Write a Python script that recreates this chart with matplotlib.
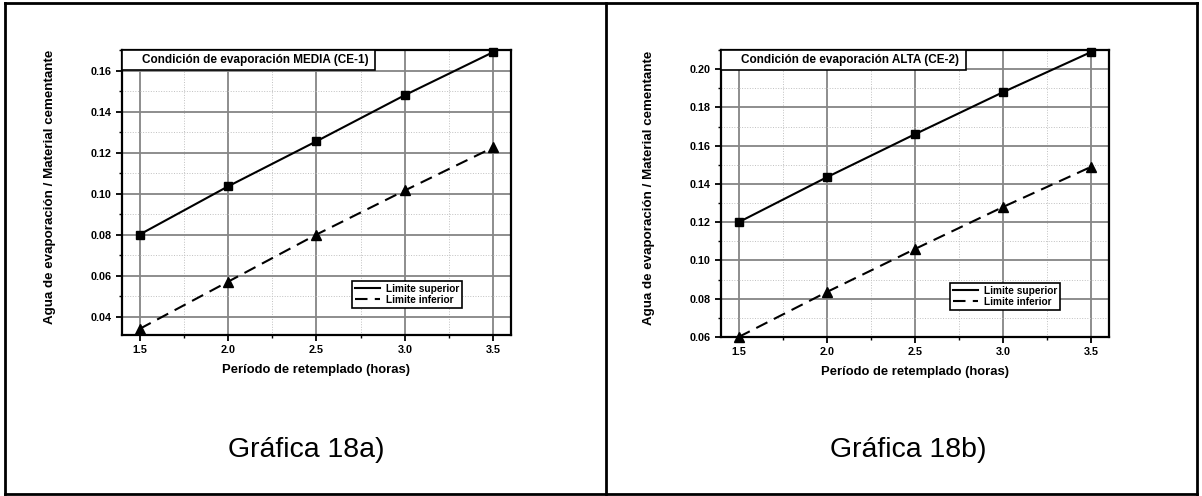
import matplotlib.pyplot as plt
from matplotlib.lines import Line2D
from matplotlib.patches import Rectangle
from matplotlib.ticker import MultipleLocator

# datos
periodo = [1.5, 2.0, 2.5, 3.0, 3.5]

media_sup = [0.080, 0.1035, 0.1255, 0.148, 0.169]
media_inf = [0.034, 0.057, 0.080, 0.1015, 0.1225]

alta_sup = [0.120, 0.1435, 0.166, 0.188, 0.209]
alta_inf = [0.060, 0.0835, 0.106, 0.128, 0.149]

titulos = ['Condición de evaporación MEDIA (CE-1)', 'Condición de evaporación ALTA (CE-2)']
captions = ['Gráfica 18a)', 'Gráfica 18b)']
etiquetas = ['Limite superior', 'Limite inferior']

plt.rcParams['font.family'] = ['Liberation Sans', 'DejaVu Sans']

W, H = 1202, 496
fig = plt.figure(figsize=(W / 100, H / 100), dpi=100)


def panel(rect, sup, inf, titulo, caja_ancho, ylim, yticks, caption, cap_x):
    ax = fig.add_axes(rect)
    ax.plot(periodo, sup, color='black', lw=1.5, marker='s', ms=5.5,
            label=etiquetas[0], clip_on=False, zorder=5)
    ax.plot(periodo, inf, color='black', lw=1.5, ls=(0, (6, 3.5)), marker='^', ms=6.5,
            label=etiquetas[1], clip_on=False, zorder=5)
    ax.set_xlim(1.4, 3.6)
    ax.set_ylim(*ylim)
    ax.set_xticks(periodo)
    ax.set_yticks(yticks)
    ax.xaxis.set_minor_locator(MultipleLocator(0.25))
    ax.yaxis.set_minor_locator(MultipleLocator(0.01))
    ax.grid(True, which='major', color='#858585', lw=1.3)
    ax.grid(True, which='minor', color='#c0c0c0', lw=0.7, ls=':')
    ax.set_axisbelow(True)
    for s in ax.spines.values():
        s.set_linewidth(1.6)
    ax.tick_params(which='major', direction='out', length=4, width=1.3, labelsize=7.8)
    ax.tick_params(which='minor', direction='out', length=2.5, width=1)
    ax.set_xticklabels([f'{v:.1f}' for v in periodo], fontweight='bold')
    ax.set_yticklabels([f'{v:.2f}' for v in yticks], fontweight='bold')
    ax.set_xlabel('Período de retemplado (horas)', fontsize=9.4, fontweight='bold', labelpad=6)
    ax.set_ylabel('Agua de evaporación / Material cementante', fontsize=9.6, fontweight='bold')
    ax.yaxis.set_label_coords(-0.17, 0.52)

    # recuadro del titulo
    ax.add_patch(Rectangle((0, 0.93), caja_ancho, 0.07, transform=ax.transAxes,
                           fc='white', ec='black', lw=1.2, zorder=6, clip_on=False))
    ax.text(0.052, 0.965, titulo, transform=ax.transAxes, ha='left', va='center',
            fontsize=8.5, fontweight='bold', zorder=7)

    leg = ax.legend(loc='lower right', bbox_to_anchor=(0.874, 0.095),
                    prop={'weight': 'bold', 'size': 7.3}, fancybox=False, framealpha=1,
                    edgecolor='black', handlelength=2.5, handletextpad=0.55,
                    borderpad=0.3, labelspacing=0.1, borderaxespad=0)
    leg.get_frame().set_linewidth(1.2)
    for h in leg.legend_handles:
        h.set_marker('')
    fig.text(cap_x, 1 - 450 / H, caption, ha='center', va='center', fontsize=20.5)
    return ax


panel([122 / W, 1 - 335 / H, 389 / W, 285 / H], media_sup, media_inf, titulos[0], 0.65,
      (0.031, 0.17), [0.04, 0.06, 0.08, 0.10, 0.12, 0.14, 0.16], captions[0], 306 / W)
panel([721 / W, 1 - 337 / H, 388 / W, 287 / H], alta_sup, alta_inf, titulos[1], 0.631,
      (0.06, 0.21), [0.06, 0.08, 0.10, 0.12, 0.14, 0.16, 0.18, 0.20], captions[1], 908 / W)

# bordes de la tabla
for (x0, y0, x1, y1) in [(5, 3, 1197, 3), (5, 494, 1197, 494), (5, 3, 5, 494),
                         (606, 3, 606, 494), (1197, 3, 1197, 494)]:
    fig.add_artist(Line2D([x0 / W, x1 / W], [1 - y0 / H, 1 - y1 / H], color='black', lw=2))

fig.savefig('out.png', dpi=100)
